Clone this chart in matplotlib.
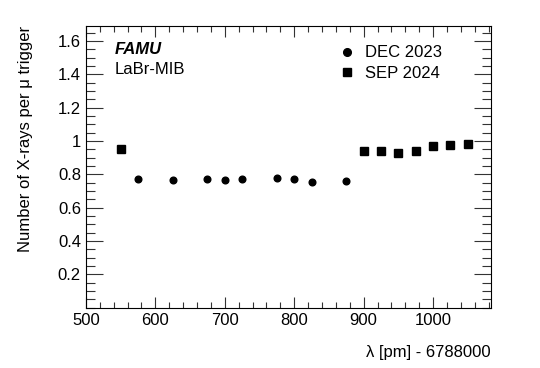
import matplotlib
matplotlib.use('Agg')
import matplotlib.pyplot as plt
from matplotlib.ticker import MultipleLocator

plt.rcParams['font.family'] = ['Liberation Sans', 'DejaVu Sans']

# DATA ------------------------------------------------------------------------
# wavelength offset [pm] (lambda - 6788000) and X-rays per muon trigger
dec2023_x = [575, 625, 675, 700, 725, 775, 800, 825, 875]
dec2023_y = [0.773, 0.769, 0.770, 0.765, 0.771, 0.779, 0.771, 0.755, 0.761]

sep2024_x = [550, 900, 925, 950, 975, 1000, 1025, 1050]
sep2024_y = [0.953, 0.939, 0.942, 0.929, 0.939, 0.969, 0.975, 0.981]

x_range = (500, 1083)
y_range = (0, 1.69)

# PLOT ------------------------------------------------------------------------
fig = plt.figure(figsize=(5.4, 3.68), dpi=100)
ax = fig.add_axes([0.159, 0.164, 0.7497, 0.765])

ax.plot(dec2023_x, dec2023_y, 'o', color='black', ms=4.8, label='DEC 2023')
ax.plot(sep2024_x, sep2024_y, 's', color='black', ms=5.3, label='SEP 2024')

ax.set_xlim(*x_range)
ax.set_ylim(*y_range)

ax.xaxis.set_major_locator(MultipleLocator(100))
ax.xaxis.set_minor_locator(MultipleLocator(20))
ax.yaxis.set_minor_locator(MultipleLocator(0.05))
ax.set_yticks([0.2, 0.4, 0.6, 0.8, 1.0, 1.2, 1.4, 1.6])
ax.set_yticklabels(['0.2', '0.4', '0.6', '0.8', '1', '1.2', '1.4', '1.6'])

ax.tick_params(which='both', direction='in', top=True, right=True,
               labelsize=12, width=0.8, color='#333333')
ax.tick_params(axis='y', which='major', length=12)
ax.tick_params(axis='y', which='minor', length=6.5)
ax.tick_params(axis='x', which='major', length=8)
ax.tick_params(axis='x', which='minor', length=4)
ax.tick_params(axis='x', pad=4)
for s in ax.spines.values():
    s.set_linewidth(0.8)

ax.set_xlabel('λ [pm] - 6788000', fontsize=12, loc='right', labelpad=12)
ax.set_ylabel('Number of X-rays per μ trigger', fontsize=12, loc='top', labelpad=18)

ax.text(0.072, 0.918, 'FAMU', transform=ax.transAxes, fontsize=12,
        fontweight='bold', fontstyle='italic', va='center')
ax.text(0.072, 0.845, 'LaBr-MIB', transform=ax.transAxes, fontsize=12,
        va='center')

ax.legend(loc='upper left', bbox_to_anchor=(0.612, 0.955), frameon=False,
          fontsize=12, handlelength=0.8, handletextpad=0.7, labelspacing=0.35,
          borderaxespad=0, markerscale=1.15)

fig.savefig('out.png', dpi=100)
